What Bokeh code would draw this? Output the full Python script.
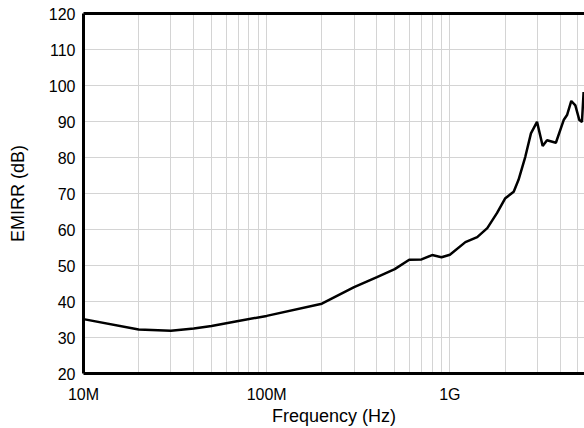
from bokeh.plotting import figure
from bokeh.models import FixedTicker, LogAxis, Range1d
from bokeh.embed import file_html
from bokeh.resources import INLINE

# Data
freq_hz = [1.0e7, 2.0e7, 3.0e7, 4.0e7, 5.0e7, 7.0e7, 1.0e8, 2.0e8, 3.0e8, 4.0e8,
           5.0e8, 6.0e8, 7.0e8, 8.0e8, 9.0e8, 1.0e9, 1.215e9, 1.41e9, 1.6e9, 1.81e9,
           2.0e9, 2.23e9, 2.37e9, 2.58e9, 2.77e9, 2.99e9, 3.21e9, 3.39e9, 3.79e9,
           4.18e9, 4.36e9, 4.6e9, 4.84e9, 5.09e9, 5.26e9, 5.37e9]
emirr_db = [35.1, 32.2, 31.9, 32.5, 33.2, 34.6, 36.0, 39.4, 44.0, 46.8,
            49.0, 51.6, 51.7, 52.9, 52.3, 53.0, 56.5, 57.9, 60.4, 64.6,
            68.6, 70.5, 73.8, 80.2, 86.7, 89.9, 83.2, 84.8, 84.1,
            90.4, 91.8, 95.7, 94.5, 90.4, 89.9, 98.2]

x_major_ticks = [1e7, 1e8, 1e9, 1e10]
x_tick_labels = ["10M", "100M", "1G", "10G"]
y_ticks = [20, 30, 40, 50, 60, 70, 80, 90, 100, 110, 120]

minor = [m * d for d in (1e7, 1e8, 1e9) for m in range(2, 10)]

FONT = "Liberation Sans"

p = figure(width=584, height=428, x_axis_type="log",
           x_range=Range1d(1e7, 5.43e9), y_range=Range1d(20, 120),
           output_backend="svg", toolbar_location=None,
           min_border_left=83, min_border_right=0, min_border_top=13,
           min_border_bottom=55)
p.outline_line_color = None
p.background_fill_color = "white"
p.border_fill_color = "white"

p.line(freq_hz, emirr_db, line_color="black", line_width=2.5)

# x axis
xa = p.xaxis[0]
xa.ticker = FixedTicker(ticks=x_major_ticks, minor_ticks=minor)
xa.major_label_overrides = {float(v): s for v, s in zip(x_major_ticks, x_tick_labels)}
xa.axis_label = "Frequency (Hz)"

# y axis
ya = p.yaxis[0]
ya.ticker = FixedTicker(ticks=y_ticks)
ya.axis_label = "EMIRR (dB)"

for ax in (xa, ya):
    ax.axis_line_width = 3
    ax.axis_line_color = "black"
    ax.major_tick_out = 0
    ax.major_tick_in = 0
    ax.minor_tick_out = 0
    ax.minor_tick_in = 0
    ax.major_label_text_font = FONT
    ax.major_label_text_font_size = "16px"
    ax.major_label_text_color = "black"
    ax.axis_label_text_font = FONT
    ax.axis_label_text_font_size = "18px"
    ax.axis_label_text_font_style = "normal"
    ax.axis_label_text_color = "black"

xa.major_label_standoff = 12
xa.axis_label_standoff = 0
ya.major_label_standoff = 8
ya.axis_label_standoff = 18

# top frame line
top = LogAxis(ticker=FixedTicker(ticks=[]), axis_line_width=3, axis_line_color="black",
              major_tick_out=0, major_tick_in=0, minor_tick_out=0, minor_tick_in=0,
              major_label_standoff=0)
p.add_layout(top, "above")

# grids
p.xgrid.ticker = FixedTicker(ticks=x_major_ticks, minor_ticks=minor)
p.xgrid.grid_line_color = "#d4d4d4"
p.xgrid.grid_line_width = 1
p.xgrid.minor_grid_line_color = "#d4d4d4"
p.xgrid.minor_grid_line_width = 1
p.ygrid.ticker = FixedTicker(ticks=y_ticks)
p.ygrid.grid_line_color = "#d4d4d4"
p.ygrid.grid_line_width = 1

open("out.html", "w").write(file_html(p, INLINE))
